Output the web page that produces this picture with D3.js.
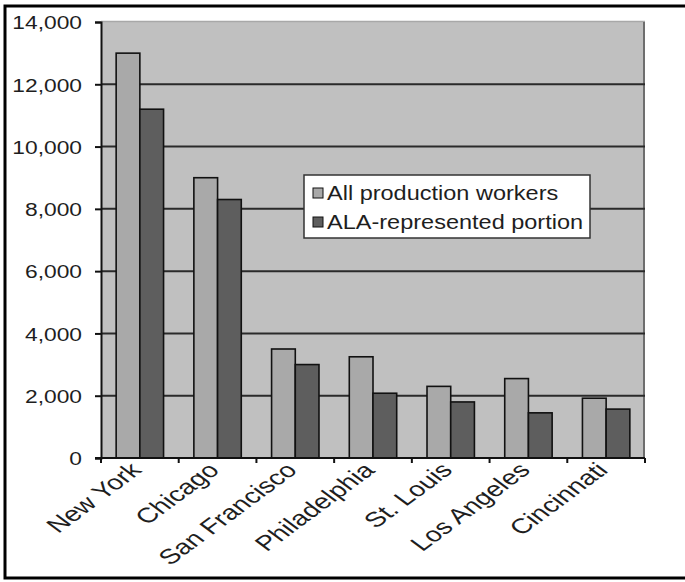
<!DOCTYPE html>
<html>
<head>
<meta charset="utf-8">
<script src="https://cdn.jsdelivr.net/npm/d3@7"></script>
<style>
  html, body { margin: 0; padding: 0; background: #fff; }
  svg { display: block; }
  text { font-family: Arial, "Liberation Sans", Helvetica, sans-serif; fill: #1e1e1e; }
</style>
</head>
<body>
<svg id="chart" width="685" height="582"></svg>
<script>
// Production workers by city
const cities = ["New York", "Chicago", "San Francisco", "Philadelphia", "St. Louis", "Los Angeles", "Cincinnati"];
const allWorkers = [13000, 9000, 3500, 3250, 2300, 2550, 1920];
const alaPortion = [11200, 8300, 3000, 2080, 1800, 1450, 1570];
const seriesNames = ["All production workers", "ALA-represented portion"];
const yTicks = [0, 2000, 4000, 6000, 8000, 10000, 12000, 14000];

const seriesColors = ["#a9a9a9", "#5e5e5e"];
const plotBg = "#c0c0c0";

const svg = d3.select("#chart");
const plot = { left: 101, right: 645, top: 22, bottom: 458 };

// Outer frame
svg.append("rect")
  .attr("x", 5).attr("y", 6)
  .attr("width", 700).attr("height", 572)
  .attr("fill", "none").attr("stroke", "#000").attr("stroke-width", 3);

const x0 = d3.scaleBand()
  .domain(cities)
  .range([plot.left, plot.right])
  .paddingInner(0.39)
  .paddingOuter(0.195);

const x1 = d3.scaleBand()
  .domain([0, 1])
  .range([0, x0.bandwidth()]);

const y = d3.scaleLinear()
  .domain([0, 14000])
  .range([plot.bottom, plot.top]);

// Plot area
svg.append("rect")
  .attr("x", plot.left).attr("y", plot.top)
  .attr("width", plot.right - plot.left).attr("height", plot.bottom - plot.top)
  .attr("fill", plotBg);
svg.append("line")
  .attr("x1", plot.left).attr("x2", plot.right)
  .attr("y1", plot.top - 0.5).attr("y2", plot.top - 0.5)
  .attr("stroke", "#a8a8a8").attr("stroke-width", 1.5);
svg.append("line")
  .attr("x1", plot.right - 1).attr("x2", plot.right - 1)
  .attr("y1", plot.top).attr("y2", plot.bottom)
  .attr("stroke", "#6e6e6e").attr("stroke-width", 2);

// Gridlines
svg.append("g")
  .selectAll("line")
  .data(yTicks.filter(t => t > 0 && t < 14000))
  .join("line")
  .attr("x1", plot.left).attr("x2", plot.right)
  .attr("y1", d => y(d)).attr("y2", d => y(d))
  .attr("stroke", "#2a2a2a").attr("stroke-width", 2);

// Bars
const rows = cities.map((c, i) => ({ city: c, values: [allWorkers[i], alaPortion[i]] }));
svg.append("g")
  .selectAll("g")
  .data(rows)
  .join("g")
  .attr("transform", d => `translate(${x0(d.city)},0)`)
  .selectAll("rect")
  .data(d => d.values.map((v, k) => ({ k, v })))
  .join("rect")
  .attr("x", d => x1(d.k))
  .attr("y", d => y(d.v))
  .attr("width", x1.bandwidth())
  .attr("height", d => y(0) - y(d.v))
  .attr("fill", d => seriesColors[d.k])
  .attr("stroke", "#111")
  .attr("stroke-width", 1.6);

// Y axis
const yAxis = svg.append("g")
  .attr("transform", `translate(${plot.left},0)`)
  .call(d3.axisLeft(y).tickValues(yTicks).tickSize(6).tickFormat(d3.format(",")));
yAxis.select(".domain").attr("stroke", "#111").attr("stroke-width", 2);
yAxis.selectAll(".tick line").attr("stroke", "#111").attr("stroke-width", 2);
yAxis.selectAll(".tick text")
  .attr("x", null).attr("dy", null)
  .attr("text-anchor", "end")
  .attr("font-size", 19)
  .attr("dominant-baseline", "central")
  .attr("transform", "translate(-19,0) scale(1.2,1)")
  .style("fill", "#1e1e1e");

// X axis with ticks at category boundaries
const boundaries = cities.map(c => x0(c) - x0.step() * x0.paddingInner() / 2).concat([plot.right]);
svg.append("line")
  .attr("x1", plot.left - 6).attr("x2", plot.right)
  .attr("y1", plot.bottom).attr("y2", plot.bottom)
  .attr("stroke", "#111").attr("stroke-width", 2);
svg.append("g")
  .selectAll("line")
  .data(boundaries)
  .join("line")
  .attr("x1", d => d).attr("x2", d => d)
  .attr("y1", plot.bottom).attr("y2", plot.bottom + 5)
  .attr("stroke", "#111").attr("stroke-width", 2);

svg.append("g")
  .selectAll("text")
  .data(cities)
  .join("text")
  .attr("text-anchor", "end")
  .attr("font-size", 21)
  .attr("dy", "0.7em")
  .attr("transform", c => `translate(${x0(c) + x0.bandwidth() / 2 - 11},${plot.bottom + 3}) scale(1.35,1) rotate(-45)`)
  .text(c => c);

// Legend
const legend = svg.append("g").attr("transform", "translate(304,175)");
legend.append("rect")
  .attr("width", 286).attr("height", 63)
  .attr("fill", "#fff").attr("stroke", "#333").attr("stroke-width", 1.5);
seriesNames.forEach((name, k) => {
  const row = legend.append("g").attr("transform", `translate(9,${13 + k * 29})`);
  row.append("rect")
    .attr("width", 10).attr("height", 10)
    .attr("fill", seriesColors[k]).attr("stroke", "#111").attr("stroke-width", 1);
  row.append("text")
    .attr("x", 0).attr("y", 0)
    .attr("dominant-baseline", "central")
    .attr("font-size", 21)
    .attr("transform", "translate(14,5) scale(1.12,1)")
    .text(name);
});
</script>
</body>
</html>
